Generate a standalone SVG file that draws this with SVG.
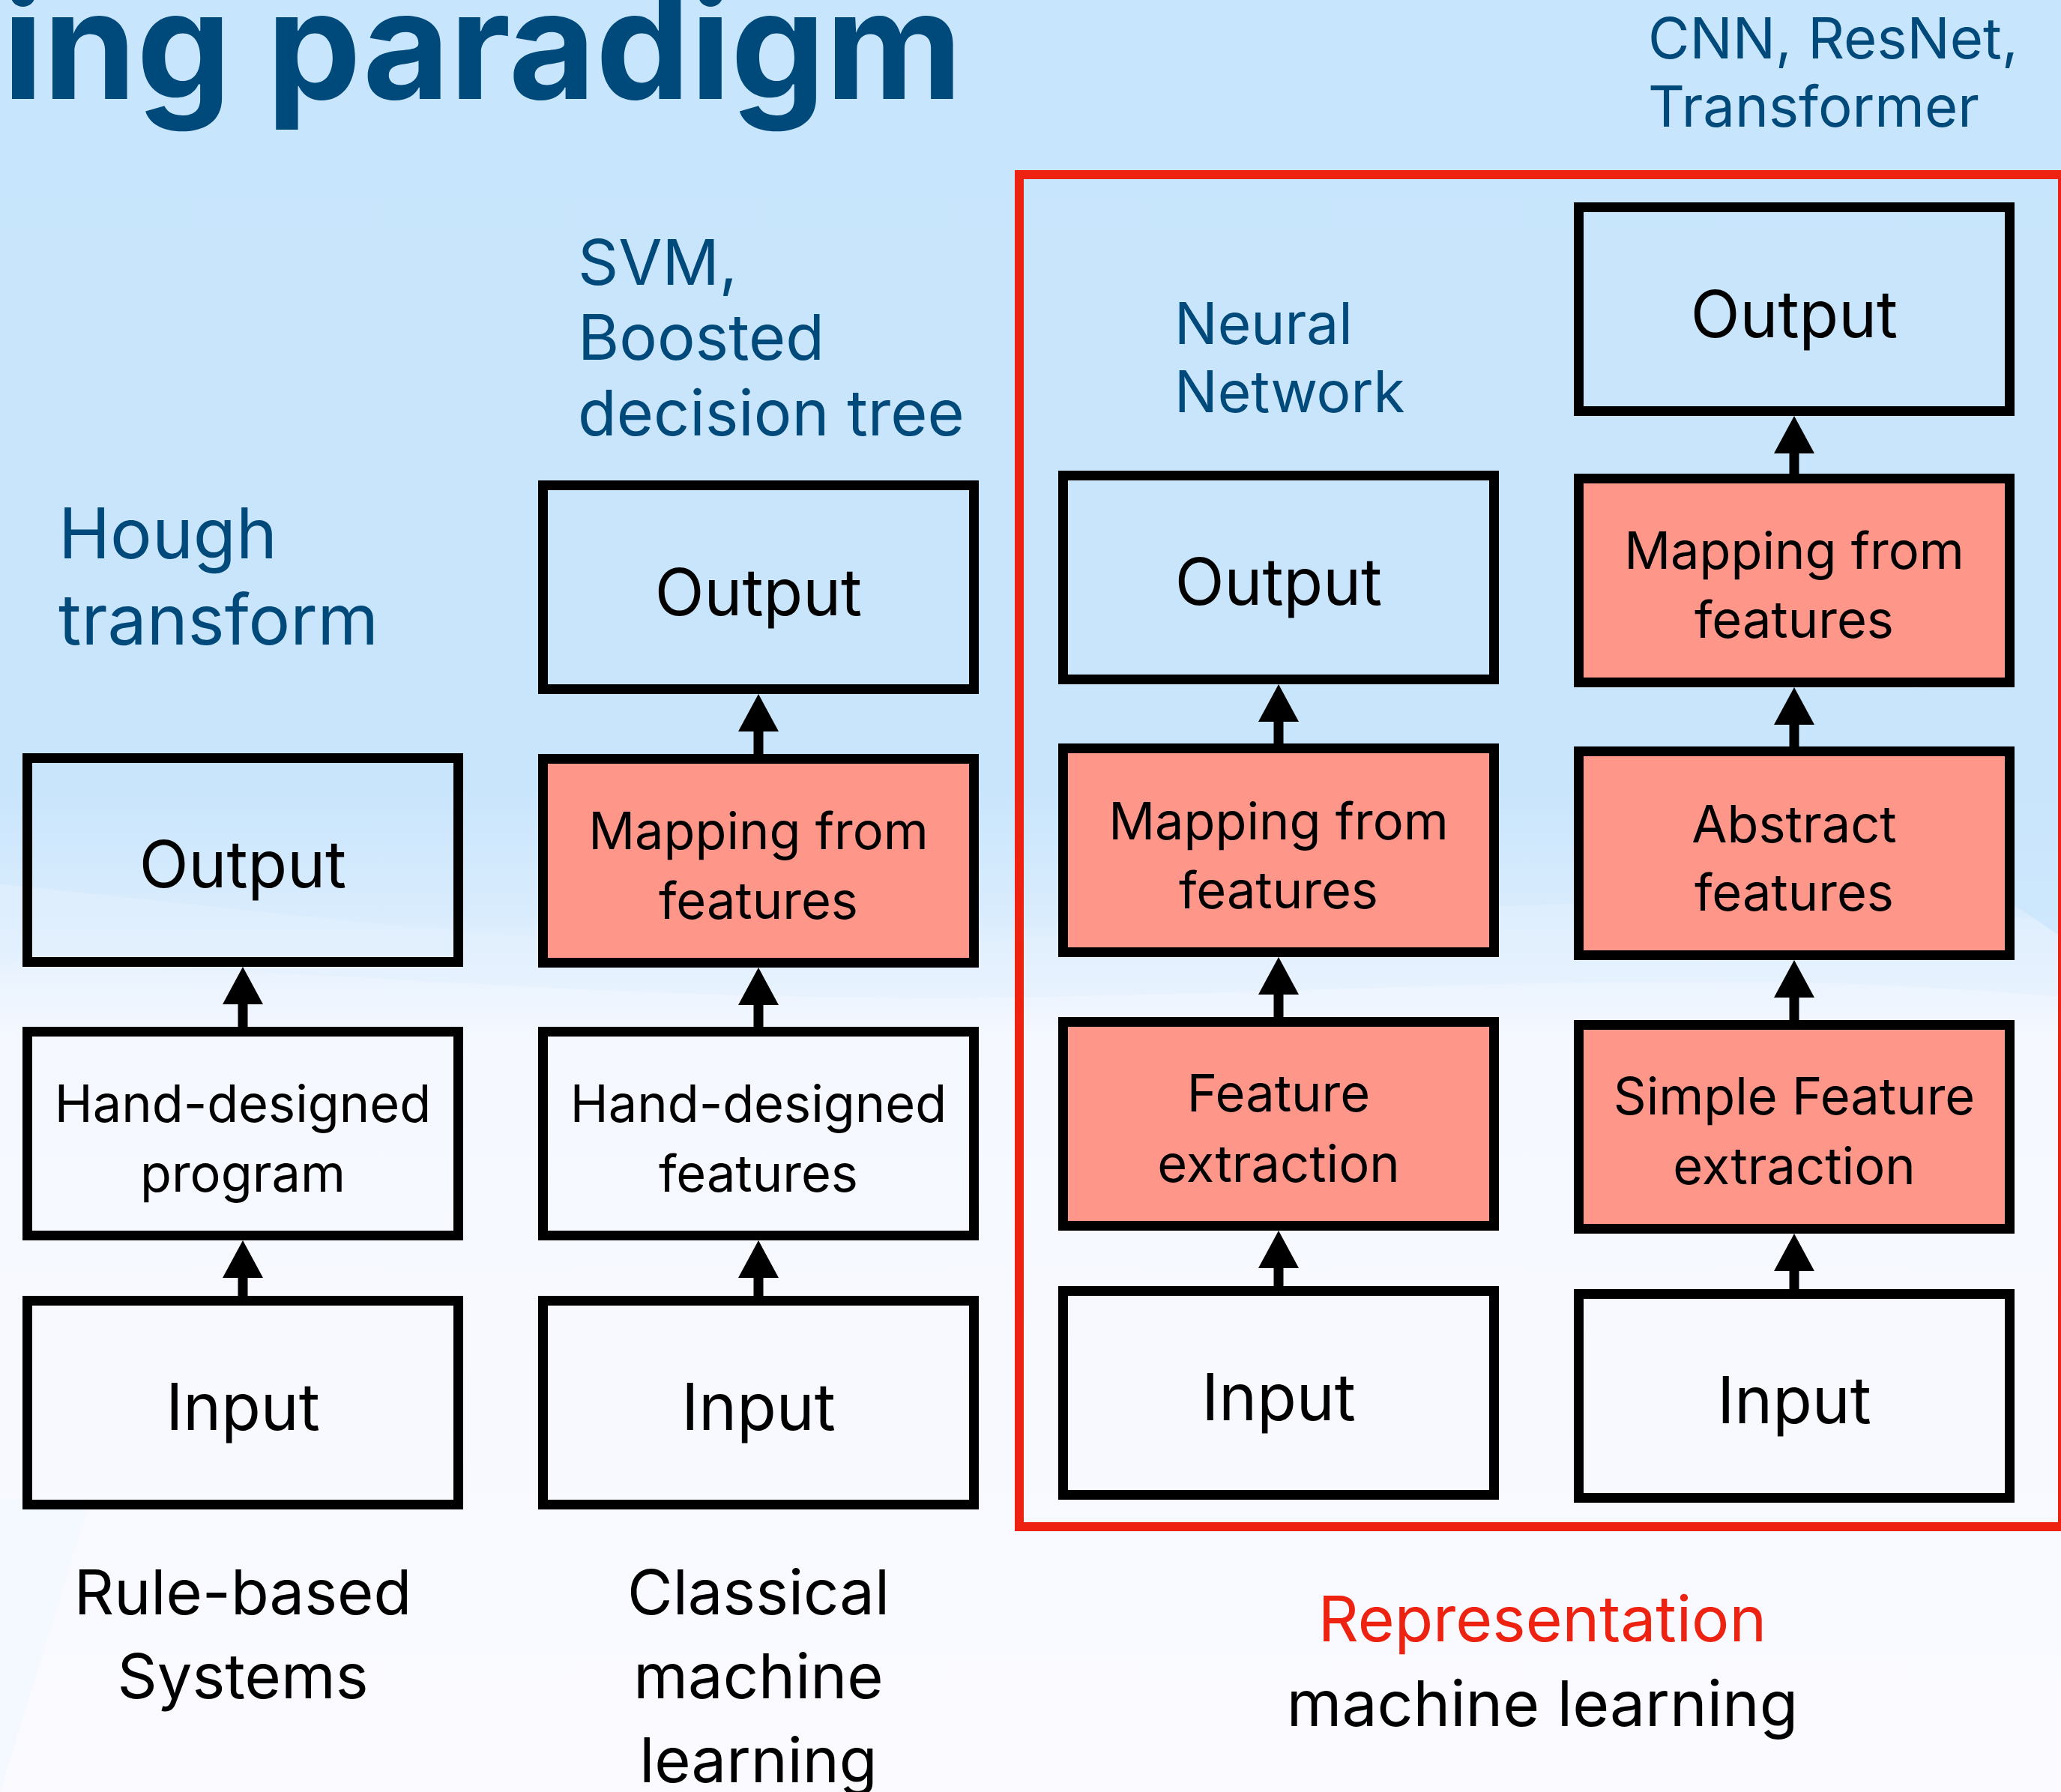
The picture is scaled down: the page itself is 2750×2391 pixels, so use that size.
<svg xmlns="http://www.w3.org/2000/svg" width="2750" height="2391" viewBox="0 0 2750 2391">
<defs>
  <linearGradient id="bg" x1="0" y1="0" x2="0" y2="1">
    <stop offset="0" stop-color="#C7E5FC"/>
    <stop offset="0.44" stop-color="#C9E5FC"/>
    <stop offset="0.51" stop-color="#D9ECFD"/>
    <stop offset="0.545" stop-color="#EAF3FE"/>
    <stop offset="0.58" stop-color="#F5F8FF"/>
    <stop offset="1" stop-color="#FAFAFF"/>
  </linearGradient>
  <marker id="ah" markerUnits="userSpaceOnUse" markerWidth="60" markerHeight="60" viewBox="0 -30 60 60" refX="0" refY="0" orient="auto">
    <path d="M0,-27 L50,0 L0,27 Z" fill="#000"/>
  </marker>
</defs>
<style>
  .box{stroke:#000;stroke-width:13}
  .plain{fill:none}
  .red{fill:#FE968A}
  .t{font-family:Inter,'Liberation Sans',sans-serif;text-anchor:middle;fill:#000}
  .big{font-size:86px}
  .mid{font-size:68.5px}
  .lab{font-family:Inter,'Liberation Sans',sans-serif;fill:#00497B}
  .cap{font-family:Inter,'Liberation Sans',sans-serif;text-anchor:middle;font-size:83px;fill:#000}
  .conn{stroke:#000;stroke-width:13;fill:none;marker-end:url(#ah)}
</style>

<!-- background -->
<rect x="0" y="0" width="2750" height="2391" fill="url(#bg)"/>
<path d="M0,1180 C500,1230 900,1290 1400,1250 C1900,1210 2300,1180 2750,1230 L2750,1330 C2300,1290 1900,1320 1400,1330 C900,1340 500,1300 0,1280 Z" fill="#E2F0FE" opacity="0.6"/>
<path d="M2450,880 C2560,920 2660,950 2750,990 L2750,1250 C2680,1200 2600,1150 2450,1110 Z" fill="#C9E5FC" opacity="0.7"/>
<path d="M0,2000 L120,2000 L0,2391 Z" fill="#F2F7FF" opacity="0.8"/>

<!-- title and annotations -->
<text x="1284" y="132" text-anchor="end" font-family="Inter,'Liberation Sans',sans-serif" font-weight="700" font-size="200" fill="#00497B">ing paradigm</text>

<g id="label-hough" class="lab" font-size="93">
  <text x="78" y="745">Hough</text>
  <text x="78" y="860">transform</text>
</g>
<g id="label-svm" class="lab" font-size="84.5">
  <text x="771" y="380">SVM,</text>
  <text x="771" y="480">Boosted</text>
  <text x="771" y="581">decision tree</text>
</g>
<g id="label-nn" class="lab" font-size="76.5">
  <text x="1567" y="459">Neural</text>
  <text x="1567" y="550">Network</text>
</g>
<g id="label-cnn" class="lab" font-size="76">
  <text x="2199" y="78">CNN, ResNet,</text>
  <text x="2199" y="169">Transformer</text>
</g>

<!-- representation learning frame -->
<rect id="rep-frame" x="1360" y="233" width="1392" height="1804" fill="none" stroke="#EE2211" stroke-width="12"/>

<!-- column 1 : Rule-based systems -->
<g id="c1_out"><rect class="box plain" x="36.5" y="1011.5" width="575" height="272"/><text class="t big" x="324" y="1184">Output</text></g>
<g id="c1_prog"><rect class="box plain" x="36.5" y="1376.5" width="575" height="272"/><text class="t mid" x="324" y="1497">Hand-designed</text><text class="t mid" x="324" y="1590">program</text></g>
<g id="c1_in"><rect class="box plain" x="36.5" y="1735.5" width="575" height="272"/><text class="t big" x="324" y="1908">Input</text></g>

<!-- column 2 : Classical ML -->
<g id="c2_out"><rect class="box plain" x="724.5" y="647.5" width="575" height="272"/><text class="t big" x="1012" y="821">Output</text></g>
<g id="c2_map"><rect class="box red" x="724.5" y="1012.5" width="575" height="272"/><text class="t mid" x="1012" y="1133">Mapping from</text><text class="t mid" x="1012" y="1226">features</text></g>
<g id="c2_feat"><rect class="box plain" x="724.5" y="1376.5" width="575" height="272"/><text class="t mid" x="1012" y="1497">Hand-designed</text><text class="t mid" x="1012" y="1590">features</text></g>
<g id="c2_in"><rect class="box plain" x="724.5" y="1735.5" width="575" height="272"/><text class="t big" x="1012" y="1908">Input</text></g>

<!-- column 3 : Neural network -->
<g id="c3_out"><rect class="box plain" x="1418.5" y="634.5" width="575" height="272"/><text class="t big" x="1706" y="807">Output</text></g>
<g id="c3_map"><rect class="box red" x="1418.5" y="998.5" width="575" height="272"/><text class="t mid" x="1706" y="1120">Mapping from</text><text class="t mid" x="1706" y="1212">features</text></g>
<g id="c3_fe"><rect class="box red" x="1418.5" y="1363.5" width="575" height="272"/><text class="t mid" x="1706" y="1483">Feature</text><text class="t mid" x="1706" y="1577">extraction</text></g>
<g id="c3_in"><rect class="box plain" x="1418.5" y="1722.5" width="575" height="272"/><text class="t big" x="1706" y="1895">Input</text></g>

<!-- column 4 : Deep learning -->
<g id="c4_out"><rect class="box plain" x="2106.5" y="276.5" width="575" height="272"/><text class="t big" x="2394" y="450">Output</text></g>
<g id="c4_map"><rect class="box red" x="2106.5" y="638.5" width="575" height="272"/><text class="t mid" x="2394" y="759">Mapping from</text><text class="t mid" x="2394" y="851">features</text></g>
<g id="c4_abs"><rect class="box red" x="2106.5" y="1002.5" width="575" height="272"/><text class="t mid" x="2394" y="1124">Abstract</text><text class="t mid" x="2394" y="1215">features</text></g>
<g id="c4_sfe"><rect class="box red" x="2106.5" y="1367.5" width="575" height="272"/><text class="t mid" x="2394" y="1487">Simple Feature</text><text class="t mid" x="2394" y="1580">extraction</text></g>
<g id="c4_in"><rect class="box plain" x="2106.5" y="1726.5" width="575" height="272"/><text class="t big" x="2394" y="1899">Input</text></g>

<!-- connectors -->
<g id="connectors">
  <line class="conn" x1="324" y1="1729" x2="324" y2="1705"/>
  <line class="conn" x1="324" y1="1370" x2="324" y2="1340"/>
  <line class="conn" x1="1012" y1="1729" x2="1012" y2="1705"/>
  <line class="conn" x1="1012" y1="1370" x2="1012" y2="1341"/>
  <line class="conn" x1="1012" y1="1006" x2="1012" y2="976"/>
  <line class="conn" x1="1706" y1="1716" x2="1706" y2="1692"/>
  <line class="conn" x1="1706" y1="1357" x2="1706" y2="1327"/>
  <line class="conn" x1="1706" y1="992" x2="1706" y2="963"/>
  <line class="conn" x1="2394" y1="1720" x2="2394" y2="1696"/>
  <line class="conn" x1="2394" y1="1361" x2="2394" y2="1331"/>
  <line class="conn" x1="2394" y1="996" x2="2394" y2="967"/>
  <line class="conn" x1="2394" y1="632" x2="2394" y2="605"/>
</g>

<!-- captions -->
<g id="cap-rule" class="cap">
  <text x="324" y="2154">Rule-based</text>
  <text x="324" y="2266">Systems</text>
</g>
<g id="cap-classical" class="cap">
  <text x="1012" y="2154">Classical</text>
  <text x="1012" y="2266">machine</text>
  <text x="1012" y="2378">learning</text>
</g>
<g id="cap-rep" class="cap" font-size="84">
  <text x="2058" y="2190" fill="#EE2211" font-size="84">Representation</text>
  <text x="2058" y="2303" font-size="84">machine learning</text>
</g>
</svg>
